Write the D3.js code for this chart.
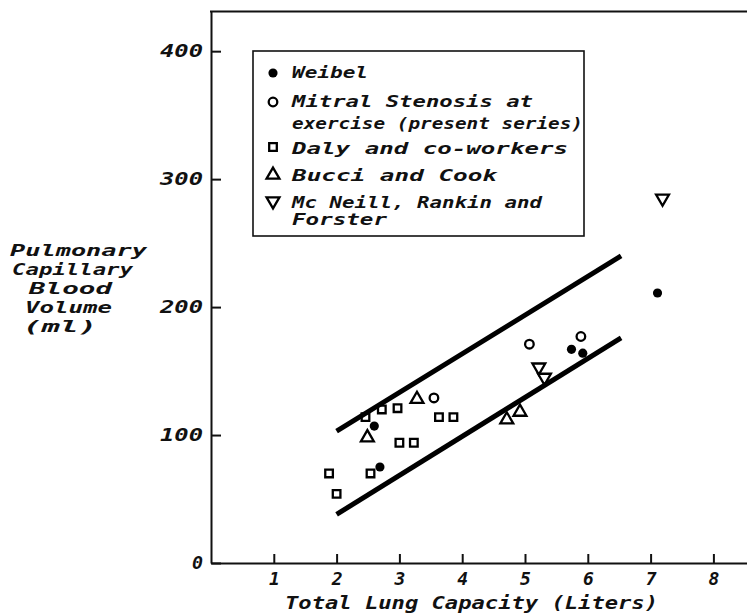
<!DOCTYPE html>
<html>
<head>
<meta charset="utf-8">
<script src="https://cdn.jsdelivr.net/npm/d3@7"></script>
<style>
body { margin: 0; background: #fff; }
svg text {
  font-family: "DejaVu Sans Mono", monospace;
  font-style: italic;
  font-weight: bold;
  fill: #111;
}
.axis path, .axis line { stroke: #111; stroke-width: 2px; }
.frame { stroke: #111; stroke-width: 2px; }
.band { fill: none; stroke: #000; stroke-width: 5px; stroke-linecap: butt; }
.legend-box { fill: none; stroke: #111; stroke-width: 1.6px; }
</style>
</head>
<body>
<svg id="chart" width="747" height="614"></svg>
<script>

/// Total lung capacity (L) vs pulmonary capillary blood volume (ml)
var weibel  = [[2.60,107],[2.69,75],[5.74,167],[5.92,164],[7.11,211]];
var mitral  = [[3.55,129],[5.07,171],[5.89,177]];
var daly    = [[1.88,70],[2.00,54],[2.46,114],[2.54,70],[2.72,120],[2.97,121],
               [3.00,94],[3.23,94],[3.63,114],[3.86,114]];
var bucci   = [[2.49,98],[3.28,128],[4.71,112],[4.92,118]];
var mcneill = [[5.22,153],[5.31,145],[7.19,285]];

var upperBand = [[2.0,103],[6.53,240]];
var lowerBand = [[2.0,38],[6.53,176]];

var xTicks = [1,2,3,4,5,6,7,8];
var yTicks = [0,100,200,300,400];

var legendLabels = [
  ["Weibel"],
  ["Mitral Stenosis at", "exercise (present series)"],
  ["Daly and co-workers"],
  ["Bucci and Cook"],
  ["Mc Neill, Rankin and", "Forster"]
];
var xTitle = "Total Lung Capacity (Liters)";
var yTitle = ["Pulmonary", "Capillary", "Blood", "Volume", "(ml)"];

var svg = d3.select("#chart");

var x = d3.scaleLinear().domain([0, 8.535]).range([211, 747]);
var y = d3.scaleLinear().domain([0, 431]).range([563, 11.5]);

/// Axes, ticks pointing inward
var xAxis = d3.axisBottom(x).tickValues(xTicks).tickSizeInner(-9).tickSizeOuter(0).tickPadding(9);
var yAxis = d3.axisLeft(y).tickValues(yTicks).tickSizeInner(-10).tickSizeOuter(0).tickPadding(8);

var gx = svg.append("g").attr("class", "axis")
    .attr("transform", "translate(0," + y(0) + ")")
    .call(xAxis);
gx.attr("font-size", 18);
gx.selectAll("text").attr("fill", "#111");

var gy = svg.append("g").attr("class", "axis")
    .attr("transform", "translate(" + x(0) + ",0)")
    .call(yAxis);
gy.attr("font-size", 18);
gy.selectAll("text").attr("fill", "#111")
    .attr("textLength", function(d) { return d === 0 ? 11 : 43; })
    .attr("lengthAdjust", "spacingAndGlyphs");

/// Top edge of the frame
svg.append("line").attr("class", "frame")
    .attr("x1", x(0) - 1).attr("x2", x.range()[1])
    .attr("y1", y.range()[1]).attr("y2", y.range()[1]);

/// Axis titles
svg.append("text")
    .attr("x", 285).attr("y", 609)
    .attr("font-size", 17)
    .attr("textLength", 373).attr("lengthAdjust", "spacingAndGlyphs")
    .text(xTitle);

var yTitleLayout = [[10,256,137],[12,275,121],[29,294,83],[25,313,87],[23,332,74]];
svg.selectAll(".ytitle").data(yTitle).enter().append("text")
    .attr("class", "ytitle")
    .attr("x", function(d, i) { return yTitleLayout[i][0]; })
    .attr("y", function(d, i) { return yTitleLayout[i][1]; })
    .attr("font-size", 16)
    .attr("textLength", function(d, i) { return yTitleLayout[i][2]; })
    .attr("lengthAdjust", "spacingAndGlyphs")
    .text(function(d) { return d; });

/// Band lines
var line = d3.line().x(function(d) { return x(d[0]); }).y(function(d) { return y(d[1]); });
svg.selectAll(".band").data([upperBand, lowerBand]).enter().append("path")
    .attr("class", "band")
    .attr("d", line);

/// Marker styles
var styles = [
  {data: weibel,  type: d3.symbolCircle,   size: 66, fill: "#000", rot: 0},
  {data: mitral,  type: d3.symbolCircle,   size: 58, fill: "none", rot: 0},
  {data: daly,    type: d3.symbolSquare,   size: 58, fill: "none", rot: 0},
  {data: bucci,   type: d3.symbolTriangle, size: 72, fill: "none", rot: 0},
  {data: mcneill, type: d3.symbolTriangle, size: 72, fill: "none", rot: 180}
];

function drawMarker(sel, s) {
  sel.attr("d", d3.symbol().type(s.type).size(s.size))
      .attr("fill", s.fill)
      .attr("stroke", "#000")
      .attr("stroke-width", s.fill === "none" ? 2.3 : 0);
}

styles.forEach(function(s) {
  svg.append("g").selectAll("path").data(s.data).enter().append("path")
      .call(drawMarker, s)
      .attr("transform", function(d) {
        return "translate(" + x(d[0]) + "," + y(d[1]) + ") rotate(" + s.rot + ")";
      });
});

/// Legend
var lg = svg.append("g");
lg.append("rect").attr("class", "legend-box")
    .attr("x", 253).attr("y", 51).attr("width", 331).attr("height", 185);

var markerY = [73, 102, 147, 175, 201];
var lineLayout = [
  [[78, 76]],
  [[107, 241], [129, 291]],
  [[154, 276]],
  [[181, 205]],
  [[208, 250], [225, 95]]
];

legendLabels.forEach(function(lines, i) {
  var s = styles[i];
  lg.append("path")
      .call(drawMarker, s)
      .attr("transform", "translate(273," + markerY[i] + ") rotate(" + s.rot + ")");
  lines.forEach(function(t, j) {
    lg.append("text")
        .attr("x", 292).attr("y", lineLayout[i][j][0])
        .attr("font-size", 15)
        .attr("textLength", lineLayout[i][j][1])
        .attr("lengthAdjust", "spacingAndGlyphs")
        .text(t);
  });
});

</script>
</body>
</html>
